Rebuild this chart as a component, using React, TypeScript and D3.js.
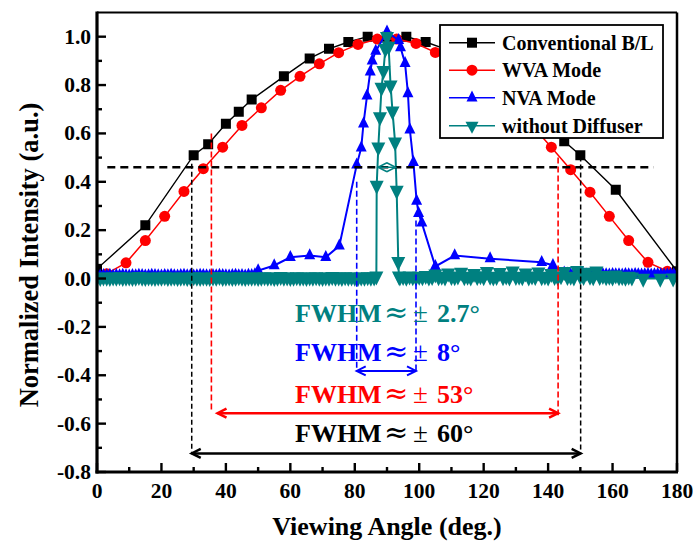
import React from 'react';
import * as d3 from 'd3';

// ---------- data ----------
const xTicks = [0, 20, 40, 60, 80, 100, 120, 140, 160, 180];
const xMinorTicks = [10, 30, 50, 70, 90, 110, 130, 150, 170];
const yTicks = [-0.8, -0.6, -0.4, -0.2, 0.0, 0.2, 0.4, 0.6, 0.8, 1.0];
const yMinorTicks = [-0.7, -0.5, -0.3, -0.1, 0.1, 0.3, 0.5, 0.7, 0.9];

const seriesNames = ['Conventional B/L', 'WVA Mode', 'NVA Mode', 'without Diffuser'];
const seriesColors = ['#000000', '#ff0000', '#0000ff', '#008080'];

// Conventional B/L
const convAngles = [0, 15, 30, 34.5, 40, 44, 48, 58, 66, 72, 78, 84, 90, 96, 102, 108, 114, 122, 132, 136, 140, 145, 150, 161, 180];
const convValues = [0.04, 0.22, 0.51, 0.555, 0.64, 0.69, 0.74, 0.836, 0.91, 0.95, 0.978, 1.0, 1.0, 1.0, 0.978, 0.95, 0.91, 0.836, 0.74, 0.69, 0.64, 0.568, 0.51, 0.367, 0.03];

// WVA Mode
const wvaAngles = [3, 9, 15, 21, 27, 33, 39, 45, 51, 57, 63, 69, 75, 81, 87, 93, 99, 105, 111, 117, 123, 129, 135, 141, 147, 153, 159, 165, 171, 177];
const wvaValues = [0.02, 0.065, 0.157, 0.257, 0.36, 0.454, 0.543, 0.633, 0.706, 0.778, 0.836, 0.888, 0.934, 0.968, 0.99, 0.99, 0.972, 0.935, 0.89, 0.836, 0.778, 0.706, 0.633, 0.543, 0.45, 0.357, 0.257, 0.157, 0.067, 0.03];

// NVA Mode: dense baseline (1 deg steps) + measured peak region
const nvaLeftStart = 0;
const nvaLeftBase = [
  0.012, 0.011, 0.013, 0.012, 0.014, 0.011, 0.013, 0.012, 0.014, 0.012,
  0.011, 0.013, 0.012, 0.014, 0.013, 0.011, 0.012, 0.014, 0.013, 0.012,
  0.011, 0.013, 0.012, 0.014, 0.012, 0.011, 0.013, 0.014, 0.012, 0.013,
  0.011, 0.012, 0.014, 0.013, 0.012, 0.011, 0.013, 0.012, 0.014, 0.013,
  0.012, 0.011, 0.013, 0.014, 0.012, 0.013, 0.011, 0.014, 0.013, 0.016,
];
const nvaMidAngles = [50, 55, 60, 66, 71, 75.2, 80.6, 82.0, 82.7, 83.8, 84.8, 85.4, 86.5, 90, 93.6, 94.2, 95.6, 96.5, 97.1, 98.2, 99.2, 99.8, 100.8, 105, 111, 122, 138, 141.5];
const nvaMidValues = [0.033, 0.054, 0.088, 0.095, 0.088, 0.135, 0.47, 0.54, 0.64, 0.755, 0.855, 0.9, 0.94, 1.02, 0.985, 0.955, 0.89, 0.765, 0.615, 0.48, 0.32, 0.27, 0.23, 0.05, 0.095, 0.082, 0.067, 0.055];
const nvaRightStart = 145;
const nvaRightBase = [
  0.024, 0.019, 0.016, 0.017, 0.015, 0.016, 0.017, 0.015, 0.016, 0.017,
  0.016, 0.015, 0.017, 0.016, 0.015, 0.017, 0.016, 0.016, 0.015, 0.017,
  0.016, 0.015, 0.017, 0.016, 0.015, 0.016, 0.017, 0.015, 0.016, 0.017,
  0.016, 0.015, 0.016, 0.017, 0.016, 0.016,
];

// without Diffuser: dense baseline + narrow peak
const diffLeftStart = 0;
const diffLeftBase = [
  0.005, 0.004, 0.006, 0.005, 0.004, 0.006, 0.005, 0.007, 0.004, 0.005,
  0.006, 0.004, 0.005, 0.008, 0.005, 0.004, 0.006, 0.005, 0.004, 0.006,
  0.005, 0.007, 0.004, 0.005, 0.006, 0.004, 0.005, 0.006, 0.004, 0.005,
  0.007, 0.005, 0.004, 0.006, 0.005, 0.004, 0.006, 0.005, 0.008, 0.004,
  0.005, 0.006, 0.004, 0.005, 0.007, 0.005, 0.004, 0.006, 0.005, 0.006,
  0.004, 0.005, 0.007, 0.005, 0.006, 0.004, 0.005, 0.008, 0.005, 0.006,
  0.004, 0.005, 0.007, 0.005, 0.006, 0.004, 0.006, 0.005, 0.007, 0.005,
  0.004, 0.006, 0.005, 0.008, 0.005, 0.006, 0.004, 0.007, 0.005, 0.006,
  0.005, 0.004, 0.006, 0.005, 0.007, 0.005, 0.006,
];
const diffPeakAngles = [86.7, 86.8, 87.3, 87.8, 88.3, 88.9, 89.5, 90, 90.5, 91.1, 91.7, 92.5, 93.0, 93.5, 93.7];
const diffPeakValues = [0.01, 0.385, 0.543, 0.668, 0.79, 0.86, 0.95, 1.0, 0.96, 0.8, 0.692, 0.564, 0.364, 0.07, 0.01];
const diffRightStart = 94;
const diffRightBase = [
  0.006, 0.008, 0.005, 0.01, 0.007, 0.006, 0.009, 0.007, 0.012, 0.006,
  0.008, 0.018, 0.007, 0.009, 0.006, 0.022, 0.008, 0.007, 0.01, 0.025,
  0.007, 0.009, 0.006, 0.02, 0.008, 0.011, 0.007, 0.028, 0.009, 0.006,
  0.008, 0.024, 0.007, 0.01, 0.006, 0.03, 0.008, 0.009, 0.007, 0.022,
  0.006, 0.01, 0.008, 0.026, 0.007, 0.009, 0.006, 0.02, 0.008, 0.007,
  0.011, 0.028, 0.008, 0.009, 0.006, 0.032, 0.01, 0.008, 0.025, 0.009,
  0.007, 0.03, 0.008, 0.012, 0.007, 0.009, 0.006, 0.014, 0.007, 0.008,
  0.005, 0.009, 0.006,
];
const diffTailAngles = [169.5, 174.8, 178.8];
const diffTailValues = [0.0, 0.0, 0.002];

// FWHM annotation data (data units)
const halfMax = 0.46;
const halfMaxLine = [3.2, 172.7];
const fwhmBlack = { left: 29.4, right: 150.1, top: [0.475, 0.505], arrowY: -0.723 };
const fwhmRed = { left: 35.5, right: 143.1, top: [0.6, 0.5], bottom: [-0.545, -0.565], arrowY: -0.557, arrowLeft: 37.4 };
const fwhmBlue = { left: 80.6, right: 99.0, top: [0.4, 0.24], arrowY: -0.382 };
const fwhmTeal = { left: 87.2, right: 92.7 };
const fwhmLabels = ['FWHM', '\u2248', '\u00b1'];
const fwhmValues = ['2.7\u00b0', '8\u00b0', '53\u00b0', '60\u00b0'];
const fwhmLabelY = [-0.179, -0.34, -0.514, -0.675];
const fwhmLabelX = 61.45;

// ---------- layout ----------
const W = 693, H = 546;
const P = { left: 97, right: 677, top: 12.5, bottom: 472 };
const FONT = '"Liberation Serif", "Times New Roman", serif';

const sq = 'M-5,-5h10v10h-10z';
const upTri = (w: number, h: number) => `M0,${(-2 * h) / 3}L${w / 2},${h / 3}L${-w / 2},${h / 3}Z`;
const downTri = (w: number, h: number) => `M0,${(2 * h) / 3}L${w / 2},${-h / 3}L${-w / 2},${-h / 3}Z`;

type Pt = [number, number];

export default function App() {
  const x = d3.scaleLinear().domain([0, 180]).range([P.left, P.right]);
  const y = d3.scaleLinear().domain([-0.8, 1.1]).range([P.bottom, P.top]);
  const line = d3.line<Pt>().x((d) => x(d[0])).y((d) => y(d[1]));

  const conv: Pt[] = convAngles.map((a, i) => [a, convValues[i]]);
  const wva: Pt[] = wvaAngles.map((a, i) => [a, wvaValues[i]]);
  const nva: Pt[] = [
    ...nvaLeftBase.map((v, i) => [nvaLeftStart + i, v] as Pt),
    ...nvaMidAngles.map((a, i) => [a, nvaMidValues[i]] as Pt),
    ...nvaRightBase.map((v, i) => [nvaRightStart + i, v] as Pt),
  ];
  const diff: Pt[] = [
    ...diffLeftBase.map((v, i) => [diffLeftStart + i, v] as Pt),
    ...diffPeakAngles.map((a, i) => [a, diffPeakValues[i]] as Pt),
    ...diffRightBase.map((v, i) => [diffRightStart + i, v] as Pt),
    ...diffTailAngles.map((a, i) => [a, diffTailValues[i]] as Pt),
  ];

  const markerPaths = [sq, null, upTri(11, 11), downTri(14, 14)];
  const series = [conv, wva, nva, diff];
  const lineWidths = [1.4, 1.5, 2, 2];

  const marker = (k: number, cx: number, cy: number, key: string | number, legend = false) => {
    const c = seriesColors[k];
    if (k === 1) return <circle key={key} cx={cx} cy={cy} r={5.5} fill={c} />;
    const d = legend && k === 3 ? downTri(13, 12) : (markerPaths[k] as string);
    return <path key={key} d={d} transform={`translate(${cx},${cy})`} fill={c} />;
  };

  const arrow = (x1: number, x2: number, yy: number, color: string, sw: number, key: string) => {
    const L = 9, hh = 4.5;
    return (
      <g key={key} stroke={color} strokeWidth={sw} fill="none">
        <line x1={x1} x2={x2} y1={yy} y2={yy} />
        <path d={`M${x1 + L},${yy - hh}L${x1},${yy}L${x1 + L},${yy + hh}`} />
        <path d={`M${x2 - L},${yy - hh}L${x2},${yy}L${x2 - L},${yy + hh}`} />
      </g>
    );
  };

  const legendX = 440, legendY = 25, legendW = 223, legendH = 113;
  const rowY = [42.7, 70.2, 97.8, 125.8];

  return (
    <svg width={W} height={H} style={{ position: 'absolute', left: 0, top: 0, background: '#fff' }} fontFamily={FONT}>
      <defs>
        <clipPath id="plotClip">
          <rect x={P.left} y={P.top} width={P.right - P.left} height={P.bottom - P.top} />
        </clipPath>
      </defs>
      <rect x={0} y={0} width={W} height={H} fill="#fff" />

      {/* series */}
      <g clipPath="url(#plotClip)">
        {series.map((s, k) => (
          <g key={k}>
            <path d={line(s) as string} fill="none" stroke={seriesColors[k]} strokeWidth={lineWidths[k]} />
            {s.map((d, i) => marker(k, x(d[0]), y(d[1]), i))}
          </g>
        ))}
      </g>

      {/* FWHM annotations */}
      <line x1={x(halfMaxLine[0])} x2={x(halfMaxLine[1])} y1={y(halfMax)} y2={y(halfMax)} stroke="#000" strokeWidth={2.5} strokeDasharray="8,5" />
      <g stroke="#000" strokeWidth={1.5} strokeDasharray="5,3">
        <line x1={x(fwhmBlack.left)} x2={x(fwhmBlack.left)} y1={y(fwhmBlack.top[0])} y2={y(fwhmBlack.arrowY)} />
        <line x1={x(fwhmBlack.right)} x2={x(fwhmBlack.right)} y1={y(fwhmBlack.top[1])} y2={y(fwhmBlack.arrowY)} />
      </g>
      <g stroke="#ff0000" strokeWidth={1.6} strokeDasharray="6,3">
        <line x1={x(fwhmRed.left)} x2={x(fwhmRed.left)} y1={y(fwhmRed.top[0])} y2={y(fwhmRed.bottom[0])} />
        <line x1={x(fwhmRed.right)} x2={x(fwhmRed.right)} y1={y(fwhmRed.top[1])} y2={y(fwhmRed.bottom[1])} />
      </g>
      <g stroke="#0000ff" strokeWidth={1.6} strokeDasharray="6,3">
        <line x1={x(fwhmBlue.left)} x2={x(fwhmBlue.left)} y1={y(fwhmBlue.top[0])} y2={y(fwhmBlue.arrowY)} />
        <line x1={x(fwhmBlue.right)} x2={x(fwhmBlue.right)} y1={y(fwhmBlue.top[1])} y2={y(fwhmBlue.arrowY)} />
      </g>
      {arrow(x(fwhmBlue.left), x(fwhmBlue.right), y(fwhmBlue.arrowY), '#0000ff', 2, 'ab')}
      {arrow(x(fwhmRed.arrowLeft), x(fwhmRed.right), y(fwhmRed.arrowY), '#ff0000', 2.5, 'ar')}
      {arrow(x(fwhmBlack.left), x(fwhmBlack.right), y(fwhmBlack.arrowY), '#000', 2.5, 'ak')}
      {arrow(x(fwhmTeal.left), x(fwhmTeal.right), y(halfMax), '#008080', 1.5, 'at')}

      {fwhmValues.map((v, i) => {
        const color = seriesColors[3 - i];
        const x0 = x(fwhmLabelX);
        const yy = y(fwhmLabelY[i]);
        return (
          <g key={i} fill={color} fontWeight="bold" fontSize={26}>
            <text x={x0} y={yy}>{fwhmLabels[0]}</text>
            <text x={x0 + 89} y={yy} fontSize={29} fontWeight="normal" fontFamily='"DejaVu Serif", serif'>{fwhmLabels[1]}</text>
            <text x={x0 + 118} y={yy} fontSize={27} fontWeight="normal">{fwhmLabels[2]}</text>
            <text x={x0 + 142} y={yy}>{v}</text>
          </g>
        );
      })}

      {/* frame */}
      <line x1={P.left} x2={P.right} y1={P.top} y2={P.top} stroke="#000" strokeWidth={2.2} />
      <line x1={P.right} x2={P.right} y1={P.top} y2={P.bottom} stroke="#000" strokeWidth={2.5} />
      <line x1={P.left} x2={P.left} y1={P.top - 1} y2={P.bottom + 1.5} stroke="#000" strokeWidth={3.2} />
      <line x1={P.left - 1.5} x2={P.right + 1} y1={P.bottom} y2={P.bottom} stroke="#000" strokeWidth={3.2} />

      {/* ticks */}
      <g stroke="#000" strokeWidth={2.4}>
        {xTicks.map((t) => <line key={'xt' + t} x1={x(t)} x2={x(t)} y1={P.bottom} y2={P.bottom - 9} />)}
        {xMinorTicks.map((t) => <line key={'xm' + t} x1={x(t)} x2={x(t)} y1={P.bottom} y2={P.bottom - 5} />)}
        {yTicks.map((t) => <line key={'yt' + t} x1={P.left} x2={P.left + 9} y1={y(t)} y2={y(t)} />)}
        {yMinorTicks.map((t) => <line key={'ym' + t} x1={P.left} x2={P.left + 5} y1={y(t)} y2={y(t)} />)}
      </g>
      <g fontWeight="bold" fontSize={21.5} fill="#000">
        {xTicks.map((t) => (
          <text key={'xl' + t} x={x(t)} y={498} textAnchor="middle">{t}</text>
        ))}
        {yTicks.map((t) => (
          <text key={'yl' + t} x={91} y={y(t) + 7} textAnchor="end">{t.toFixed(1)}</text>
        ))}
      </g>

      {/* axis titles */}
      <text x={(P.left + P.right) / 2} y={535} textAnchor="middle" fontWeight="bold" fontSize={26}>Viewing Angle (deg.)</text>
      <text transform={`translate(38,255) rotate(-90)`} textAnchor="middle" fontWeight="bold" fontSize={26.5}>Normalized Intensity (a.u.)</text>

      {/* legend */}
      <g>
        <rect x={legendX} y={legendY} width={legendW} height={legendH} fill="#fff" stroke="#000" strokeWidth={1.8} />
        {seriesNames.map((n, k) => (
          <g key={n}>
            <line x1={449} x2={495} y1={rowY[k]} y2={rowY[k]} stroke={seriesColors[k]} strokeWidth={1.4} />
            {marker(k, 472, rowY[k], 'lm' + k, true)}
            <text x={502} y={rowY[k] + 6.8} fontWeight="bold" fontSize={20} fill="#000">{n}</text>
          </g>
        ))}
      </g>
    </svg>
  );
}
